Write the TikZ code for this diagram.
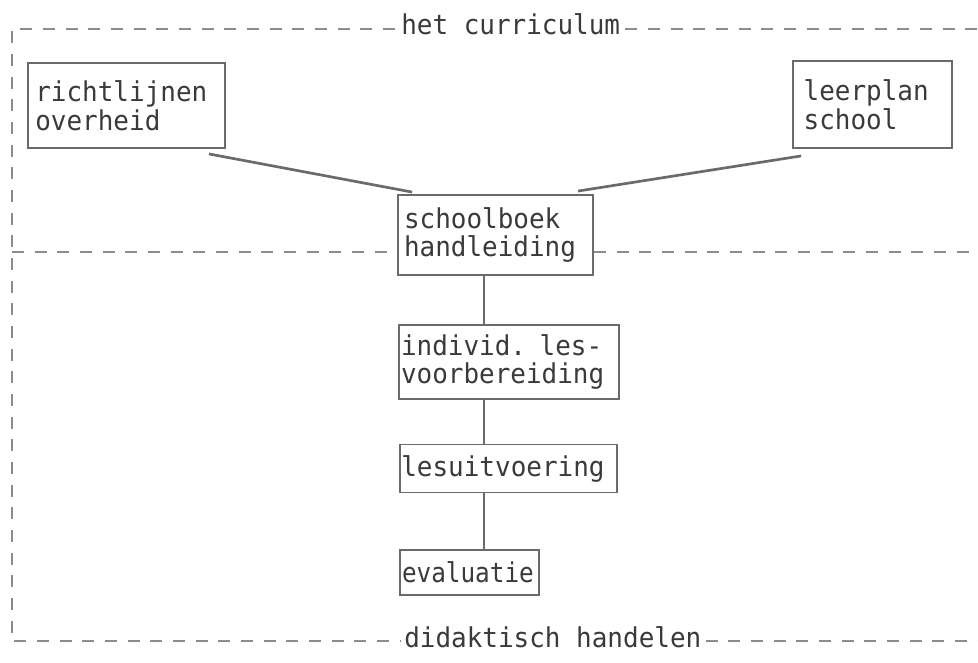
\documentclass[tikz,border=0pt]{standalone}
\usepackage{fontspec}
\newfontfamily\tw[FakeStretch=0.95]{DejaVu Sans Mono}
\newfontfamily\twn[FakeStretch=0.89]{DejaVu Sans Mono}
\usetikzlibrary{calc}
\definecolor{boxgray}{HTML}{6A6A6A}
\definecolor{txtgray}{HTML}{3A3A3A}
\definecolor{dashgray}{HTML}{8C8C8C}
\begin{document}
\begin{tikzpicture}[x=0.75pt,y=-0.75pt,
  box/.style={draw=boxgray, line width=1.4pt, inner ysep=0pt, align=left,
    text=txtgray, font=\tw\fontsize{20.5}{21.5}\selectfont},
  lbl/.style={inner sep=0pt, text=txtgray, font=\tw\fontsize{20.5}{21.5}\selectfont},
  frame/.style={draw=dashgray, line width=0.8pt, dash pattern=on 9pt off 8pt},
  feed/.style={draw=boxgray, line width=2pt},
  link/.style={draw=boxgray, line width=1.1pt}]
\useasboundingbox (0,0) rectangle (978,662);

% frame coordinates
\coordinate (tl) at (12,29);
\coordinate (bl) at (12,641);
\coordinate (ml) at (12,252);
\coordinate (rx) at (978,0);
\coordinate (vx) at (484,0);

% labels on the frame
\node[lbl, anchor=base west] (cur) at (401,34) {het curriculum};
\node[lbl, anchor=base west] (dh) at (404,647) {didaktisch handelen};

% boxes
\node[box, minimum height=63.75pt, text width=136.75pt, inner xsep=5.5pt] (ro) at (126.5,105.5) {richtlijnen\\overheid};
\node[box, minimum height=65.25pt, text width=103.25pt, inner xsep=8pt] (lp) at (872.5,104.5) {leerplan\\school};
\node[box, minimum height=60pt, text width=137.25pt, inner xsep=4.5pt] (sb) at (495.5,235) {schoolboek\\handleiding};
\node[box, minimum height=55.5pt, text width=162pt, inner xsep=1.5pt] (ind) at (509,362) {individ. les-\\voorbereiding};
\node[box, minimum height=36pt, text width=160.75pt, inner xsep=1pt] (les) at (508.5,468.5) {lesuitvoering};
\node[box, minimum height=33.75pt, text width=101.25pt, inner xsep=1.5pt, font=\twn\fontsize{20.5}{21.5}\selectfont] (ev) at (469.5,572.5) {evaluatie};

% dashed frame
\draw[frame] ($(cur.west |- tl)+(-6,0)$) -- (tl) -- (bl) -- ($(dh.west |- bl)+(-4,0)$);
\draw[frame] ($(cur.east |- tl)+(5,0)$) -- (rx |- tl);
\draw[frame] ($(dh.east |- bl)+(4,0)$) -- (rx |- bl);
\draw[frame] (ml) -- (sb.west |- ml);
\draw[frame] (sb.east |- ml) -- (rx |- ml);

% feeding lines
\draw[feed] ($(ro.south east)+(-17,5)$) -- ($(sb.north west)+(15,-2)$);
\draw[feed] ($(lp.south west)+(9,7)$) -- ($(sb.north east)+(-16,-3)$);

% vertical chain
\draw[link] (vx |- sb.south) -- (vx |- ind.north);
\draw[link] (vx |- ind.south) -- (vx |- les.north);
\draw[link] (vx |- les.south) -- (vx |- ev.north);
\end{tikzpicture}
\end{document}
